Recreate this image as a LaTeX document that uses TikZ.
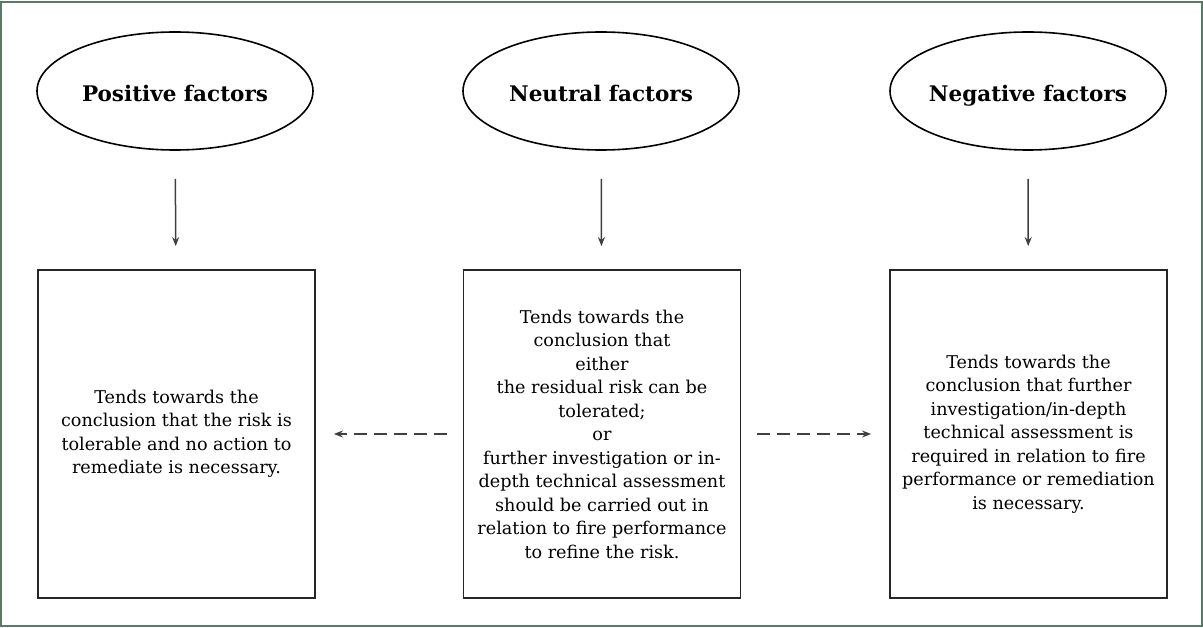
\documentclass[tikz,border=0pt]{standalone}
\usepackage{fontspec}
\setmainfont{DejaVu Serif}
\usepackage{tikz}
\usetikzlibrary{shapes.geometric,arrows.meta}
\definecolor{framegreen}{RGB}{90,122,104}
\tikzset{
    factor-ellipse/.style = {draw=black, ellipse, line width=1.6pt, minimum width=276pt, minimum height=118pt, inner xsep=-10pt, text height=22pt, text depth=1pt, font=\fontsize{21.5}{26}\selectfont\bfseries},
    outcome-box/.style = {draw=black!85, rectangle, line width=1.8pt, minimum width=277pt, minimum height=328pt, align=center, font=\fontsize{17.6}{23.5}\selectfont},
    down-arrow/.style = {draw=black!75, line width=1.5pt, -{Stealth[length=9pt,width=7pt]}, shorten <=28pt, shorten >=23pt},
    side-arrow/.style = {draw=black!75, line width=1.5pt, dash pattern=on 13pt off 7pt, -{Stealth[length=9pt,width=7pt]}, shorten <=16pt, shorten >=18pt},
}

\begin{document}
\begin{tikzpicture}[x=1pt,y=-1pt]
\useasboundingbox (0,0) rectangle (1203,628);
\draw[framegreen, line width=2pt] (1,2) rectangle (1202,626);
\node [factor-ellipse] (posell) at (175,91) {Positive factors};
\node [factor-ellipse] (neuell) at (601,91) {Neutral factors};
\node [factor-ellipse] (negell) at (1028,91) {Negative factors};
\node [outcome-box] (posbox) at (176.5,434) {Tends towards the\\conclusion that the risk is\\tolerable and no action to\\remediate is necessary.};
\node [outcome-box] (neubox) at (602,434) {Tends towards the\\conclusion that\\either\\the residual risk can be\\tolerated;\\or\\further investigation or in-\\depth technical assessment\\should be carried out in\\relation to fire performance\\to refine the risk.};
\node [outcome-box] (negbox) at (1028.5,434) {Tends towards the\\conclusion that further\\investigation/in-depth\\technical assessment is\\required in relation to fire\\performance or remediation\\is necessary.};
\draw [down-arrow] (posell) -- (posbox);
\draw [down-arrow] (neuell) -- (neubox);
\draw [down-arrow] (negell) -- (negbox);
\draw [side-arrow] (neubox) -- (posbox);
\draw [side-arrow] (neubox) -- (negbox);
\end{tikzpicture}
\end{document}
